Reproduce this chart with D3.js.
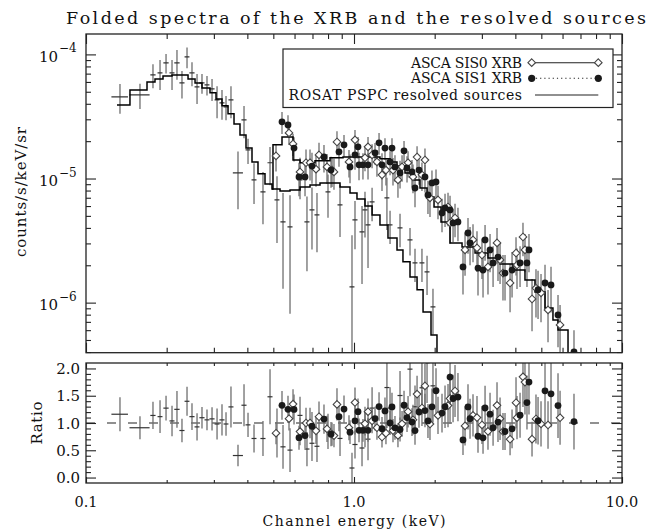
<!DOCTYPE html>
<html><head><meta charset="utf-8">
<script src="https://cdn.jsdelivr.net/npm/d3@7"></script>
<style>body{margin:0;background:#fff} svg{display:block} text{font-family:"DejaVu Serif",serif;fill:#111}</style>
</head><body>
<svg id="c" width="657" height="529"></svg>
<script>
// ---------- DATA ----------
const titleText = "Folded spectra of the XRB and the resolved sources";
const xTickLabels = ["0.1","1.0","10.0"];
const xTickValues = [0.1,1,10];
const yTopTickExp = [-4,-5,-6];
const yRatioTicks = [0.0,0.5,1.0,1.5,2.0];
const legendLabels = ["ASCA SIS0 XRB","ASCA SIS1 XRB","ROSAT PSPC resolved sources"];

// ROSAT PSPC data (energy keV, bin half width keV, value, fractional error)
const rosatE = [0.1339,0.1590,0.1778,0.1889,0.1989,0.2094,0.2185,0.2281,0.2382,0.2486,
  0.2596,0.2709,0.2828,0.2953,0.3083,0.3217,0.3330,0.3475,0.3691,0.3887,
  0.4023,0.4236,0.4575,0.4860,0.5160,0.5434,0.5771,0.6289,0.6676,0.6970,
  0.7276,0.7998,0.8868,0.9829,1.0086,1.0713,1.099,1.128,1.168,1.327,
  1.363,1.485,1.618,1.689,1.793,1.873,1.971];
const rosatEHalf = [0.0095,0.0137,0.004,0.004,0.0045,0.0045,0.005,0.005,0.005,0.0055,
  0.0055,0.006,0.006,0.0065,0.0065,0.007,0.007,0.0075,0.016,0.0085,
  0.0085,0.009,0.010,0.0105,0.011,0.012,0.0125,0.0135,0.0145,0.015,
  0.0155,0.017,0.019,0.021,0.022,0.023,0.024,0.024,0.025,0.028,
  0.029,0.032,0.035,0.036,0.038,0.040,0.042];
const rosatV = [4.55e-5,4.72e-5,6.83e-5,7.09e-5,8.54e-5,7.09e-5,8.54e-5,5.89e-5,9.55e-5,7.09e-5,
  5.47e-5,5.89e-5,5.68e-5,5.27e-5,4.30e-5,4.07e-5,3.78e-5,4.30e-5,1.11e-5,2.97e-5,
  1.70e-5,9.74e-6,7.80e-6,1.34e-5,6.72e-6,4.47e-6,4.07e-6,9.74e-6,4.47e-6,5.58e-6,
  5.09e-6,7.80e-6,6.13e-6,1.34e-6,4.64e-6,3.71e-6,5.58e-6,4.23e-6,6.48e-6,6.98e-6,
  4.23e-6,4.00e-6,3.20e-6,2.09e-6,2.09e-6,1.77e-6,9.23e-7];
const rosatFracErr = [0.27,0.23,0.22,0.27,0.18,0.27,0.27,0.25,0.19,0.22,
  0.27,0.18,0.18,0.20,0.29,0.27,0.22,0.29,0.49,0.29,
  0.23,0.36,0.45,0.34,0.55,0.71,0.80,0.30,0.60,0.52,
  0.50,0.38,0.45,1.60,0.42,0.62,0.40,0.55,0.30,0.45,
  0.30,0.30,0.25,0.30,0.30,0.35,0.40];

// ROSAT folded model (histogram: bin edges keV, values)
const rosatModelEdges = [0.1305,0.1459,0.1689,0.1809,0.1938,0.2094,0.2243,0.2403,0.2552,0.2709,
  0.2902,0.3056,0.3217,0.3388,0.3567,0.3755,0.3954,0.4163,0.4383,0.4655,
  0.4943,0.5296,0.5771,0.6289,0.6853,0.7468,0.8138,0.8868,0.9663,1.026,
  1.099,1.168,1.250,1.339,1.447,1.523,1.618,1.719,1.810,1.938,2.040];
const rosatModelVals = [3.92e-5,5.17e-5,6.00e-5,6.35e-5,6.71e-5,6.83e-5,6.83e-5,6.35e-5,5.89e-5,5.37e-5,
  4.90e-5,4.38e-5,3.85e-5,3.32e-5,2.75e-5,2.24e-5,1.76e-5,1.36e-5,1.09e-5,9.05e-6,
  8.24e-6,7.94e-6,8.09e-6,8.55e-6,8.88e-6,9.22e-6,9.22e-6,8.55e-6,7.66e-6,6.85e-6,
  6.01e-6,5.09e-6,4.23e-6,3.32e-6,2.66e-6,2.13e-6,1.61e-6,1.27e-6,8.41e-7,5.49e-7];

// ASCA folded model
const ascaModelEdges = [0.4943,0.4986,0.5387,0.5922,0.6289,0.7153,0.8138,0.9099,1.080,1.250,
  1.363,1.447,1.550,1.660,1.763,1.873,1.989,2.112,2.282,2.530,
  2.829,3.162,3.507,3.920,4.345,4.735,5.161,5.526,5.771,6.289,7.0];
const ascaModelVals = [8.24e-6,1.87e-5,2.16e-5,1.41e-5,1.34e-5,1.39e-5,1.47e-5,1.49e-5,1.49e-5,1.44e-5,
  1.36e-5,1.26e-5,1.11e-5,9.74e-6,8.39e-6,7.11e-6,5.90e-6,4.47e-6,3.03e-6,2.81e-6,
  2.51e-6,2.29e-6,2.05e-6,1.83e-6,1.52e-6,1.22e-6,9.06e-7,7.25e-7,6.03e-7,3.9e-7];

// ASCA SIS0 (open diamonds)
const sis0E = [0.5117,0.5721,0.5922,0.6289,0.6621,0.6853,0.7215,0.7403,0.7930,0.8279,
  0.8420,0.8640,0.9579,1.0086,1.099,1.128,1.168,1.218,1.272,1.316,
  1.398,1.459,1.511,1.591,1.660,1.719,1.793,1.840,1.921,2.058,
  2.243,2.282,2.382,2.596,2.780,2.877,3.003,3.162,3.417,3.507,
  3.597,3.822,4.023,4.057,4.271,4.345,4.616,4.776,4.987,5.296,5.873];
const sis0V = [1.52e-5,2.33e-5,1.90e-5,1.13e-5,1.34e-5,1.34e-5,1.19e-5,1.55e-5,1.24e-5,1.17e-5,
  1.13e-5,1.97e-5,1.36e-5,2.05e-5,1.47e-5,1.80e-5,1.55e-5,1.36e-5,1.07e-5,1.17e-5,
  1.17e-5,9.74e-6,1.24e-5,1.34e-5,1.03e-5,1.49e-5,1.07e-5,1.41e-5,6.98e-6,6.72e-6,
  5.90e-6,4.39e-6,4.81e-6,2.66e-6,3.20e-6,2.76e-6,2.42e-6,1.94e-6,3.03e-6,2.21e-6,
  1.73e-6,1.44e-6,2.51e-6,2.01e-6,3.38e-6,2.66e-6,1.07e-6,1.31e-6,1.20e-6,8.73e-7,6.61e-7];
const sis0FracErr = [0.25,0.20,0.20,0.30,0.28,0.28,0.28,0.25,0.27,0.27,
  0.28,0.22,0.25,0.20,0.22,0.20,0.22,0.24,0.26,0.25,
  0.25,0.28,0.24,0.24,0.26,0.22,0.26,0.24,0.30,0.30,
  0.30,0.32,0.30,0.38,0.34,0.36,0.36,0.40,0.32,0.36,
  0.40,0.42,0.34,0.36,0.30,0.34,0.45,0.42,0.42,0.45,0.45];

// ASCA SIS1 (filled circles)
const sis1E = [0.5387,0.5672,0.5973,0.6235,0.6565,0.6970,0.7727,0.8208,0.8790,0.9177,
  0.9663,1.0086,1.035,1.044,1.080,1.128,1.198,1.240,1.272,1.305,
  1.363,1.386,1.422,1.485,1.537,1.577,1.646,1.689,1.748,1.840,
  1.888,1.954,2.023,2.130,2.186,2.282,2.342,2.443,2.551,2.663,
  2.710,2.902,3.030,3.083,3.218,3.303,3.446,3.660,3.888,4.165,
  4.420,4.497,4.861,5.161,5.434,5.771,6.62];
const sis1V = [2.86e-5,2.70e-5,1.76e-5,1.03e-5,1.03e-5,1.26e-5,1.49e-5,1.17e-5,1.64e-5,1.87e-5,
  1.24e-5,1.55e-5,1.80e-5,1.29e-5,1.29e-5,1.29e-5,1.61e-5,1.94e-5,1.29e-5,1.76e-5,
  1.36e-5,1.76e-5,1.24e-5,1.11e-5,1.67e-5,1.22e-5,1.13e-5,8.39e-6,1.17e-5,1.03e-5,
  7.38e-6,9.22e-6,9.39e-6,5.28e-6,5.80e-6,5.58e-6,4.39e-6,4.47e-6,1.94e-6,3.64e-6,
  3.03e-6,1.90e-6,1.83e-6,3.20e-6,2.66e-6,2.09e-6,2.33e-6,1.73e-6,1.83e-6,2.09e-6,
  2.09e-6,2.66e-6,1.27e-6,1.44e-6,1.39e-6,7.96e-7,4.0e-7];
const sis1FracErr = [0.20,0.20,0.22,0.30,0.30,0.28,0.25,0.28,0.24,0.20,
  0.26,0.24,0.20,0.25,0.24,0.24,0.20,0.20,0.24,0.20,
  0.22,0.20,0.24,0.25,0.20,0.24,0.25,0.30,0.24,0.25,
  0.30,0.26,0.26,0.30,0.30,0.30,0.30,0.30,0.40,0.32,
  0.34,0.40,0.40,0.32,0.34,0.36,0.36,0.40,0.40,0.36,
  0.36,0.34,0.42,0.40,0.40,0.45,0.50];

// ---------- DRAWING ----------
const svg = d3.select("#c");
const PL = 86, PR = 622, TT = 34, TB = 352.7, RT = 363, RB = 483;
const x = d3.scaleLog().domain([0.1, 10]).range([PL, PR]);
const yT = d3.scaleLog().domain([3.95e-7, 1.46e-4]).range([TB, TT]);
const yR = d3.scaleLinear().domain([-0.1, 2.1]).range([RB, RT]);

const defs = svg.append("defs");
defs.append("clipPath").attr("id","clipT").append("rect").attr("x",PL).attr("y",TT).attr("width",PR-PL).attr("height",TB-TT);
defs.append("clipPath").attr("id","clipR").append("rect").attr("x",PL).attr("y",RT).attr("width",PR-PL).attr("height",RB-RT);

function modelAt(edges, vals, e) {
  for (let i = 0; i < vals.length; i++) if (e >= edges[i] && e < edges[i+1]) return vals[i];
  return vals[vals.length-1];
}
const rosatPts = rosatE.map((e,i)=>({e, dE: rosatEHalf[i], v: rosatV[i], s: rosatFracErr[i], m: modelAt(rosatModelEdges, rosatModelVals, e)}));
const sis0Pts = sis0E.map((e,i)=>({e, v: sis0V[i], s: sis0FracErr[i], m: modelAt(ascaModelEdges, ascaModelVals, e)}));
const sis1Pts = sis1E.map((e,i)=>({e, v: sis1V[i], s: sis1FracErr[i], m: modelAt(ascaModelEdges, ascaModelVals, e)}));

const ERR = "#6f6f6f", INK = "#1a1a1a";
function lowY(v, s) { const lo = v*(1-s); return lo > 0 ? yT(lo) : TB + 10; }

// ---- top panel ----
const gT = svg.append("g").attr("clip-path","url(#clipT)");
gT.selectAll(".rv").data(rosatPts).join("line")
  .attr("x1",d=>x(d.e)).attr("x2",d=>x(d.e)).attr("y1",d=>yT(d.v*(1+d.s))).attr("y2",d=>lowY(d.v,d.s))
  .attr("stroke",ERR).attr("stroke-width",1.3);
gT.selectAll(".rh").data(rosatPts).join("line")
  .attr("x1",d=>x(d.e-d.dE)).attr("x2",d=>x(d.e+d.dE)).attr("y1",d=>yT(d.v)).attr("y2",d=>yT(d.v))
  .attr("stroke","#333").attr("stroke-width",1.2);
[sis0Pts, sis1Pts].forEach(pts=>{
  gT.append("g").selectAll("line").data(pts).join("line")
    .attr("x1",d=>x(d.e)).attr("x2",d=>x(d.e)).attr("y1",d=>yT(d.v*(1+d.s))).attr("y2",d=>lowY(d.v,d.s))
    .attr("stroke",ERR).attr("stroke-width",1.3);
});
function stepPts(edges, vals, drop) {
  const p = [];
  vals.forEach((v,i)=>{ p.push([edges[i], v]); p.push([edges[i+1], v]); });
  if (drop) p.push([edges[edges.length-1], yT.domain()[0]/3]);
  return p;
}
const ln = d3.line().x(d=>x(d[0])).y(d=>yT(d[1]));
gT.append("path").attr("d", ln(stepPts(rosatModelEdges, rosatModelVals, true)))
  .attr("fill","none").attr("stroke","#000").attr("stroke-width",1.5);
gT.append("path").attr("d", ln(stepPts(ascaModelEdges, ascaModelVals, false)))
  .attr("fill","none").attr("stroke","#000").attr("stroke-width",1.5);

function diamond(g, cx, cy) {
  g.append("path").attr("d",`M${cx},${cy-3.8}L${cx+3.8},${cy}L${cx},${cy+3.8}L${cx-3.8},${cy}Z`)
    .attr("fill","#fff").attr("stroke","#444").attr("stroke-width",1.1);
}
sis0Pts.forEach(d=>diamond(gT, x(d.e), yT(d.v)));
gT.selectAll(".c1").data(sis1Pts).join("circle").attr("cx",d=>x(d.e)).attr("cy",d=>yT(d.v)).attr("r",3.4).attr("fill",INK);

// ---- ratio panel ----
const gR = svg.append("g").attr("clip-path","url(#clipR)");
gR.append("line").attr("x1",PL).attr("x2",PR).attr("y1",yR(1)).attr("y2",yR(1))
  .attr("stroke","#222").attr("stroke-width",1.1).attr("stroke-dasharray","9,12");
gR.selectAll(".rv").data(rosatPts).join("line")
  .attr("x1",d=>x(d.e)).attr("x2",d=>x(d.e)).attr("y1",d=>yR((d.v+d.s*d.v)/d.m)).attr("y2",d=>yR((d.v-d.s*d.v)/d.m))
  .attr("stroke",ERR).attr("stroke-width",1.3);
gR.selectAll(".rh").data(rosatPts).join("line")
  .attr("x1",d=>x(d.e-d.dE)).attr("x2",d=>x(d.e+d.dE)).attr("y1",d=>yR(d.v/d.m)).attr("y2",d=>yR(d.v/d.m))
  .attr("stroke","#333").attr("stroke-width",1.2);
[sis0Pts, sis1Pts].forEach(pts=>{
  gR.append("g").selectAll("line").data(pts).join("line")
    .attr("x1",d=>x(d.e)).attr("x2",d=>x(d.e)).attr("y1",d=>yR((d.v+d.s*d.v)/d.m)).attr("y2",d=>yR((d.v-d.s*d.v)/d.m))
    .attr("stroke",ERR).attr("stroke-width",1.3);
});
sis0Pts.forEach(d=>diamond(gR, x(d.e), yR(d.v/d.m)));
gR.selectAll(".c1").data(sis1Pts).join("circle").attr("cx",d=>x(d.e)).attr("cy",d=>yR(d.v/d.m)).attr("r",3.4).attr("fill",INK);

// ---- frames & ticks ----
[[TT,TB],[RT,RB]].forEach(([a,b])=>{
  svg.append("rect").attr("x",PL).attr("y",a).attr("width",PR-PL).attr("height",b-a)
    .attr("fill","none").attr("stroke","#222").attr("stroke-width",1.3);
});
function addAxis(gen, tr) {
  const g = svg.append("g").attr("transform", tr).call(gen);
  g.select(".domain").remove();
  g.selectAll("text").remove();
  g.selectAll("line").attr("stroke","#222").attr("stroke-width",1.1);
}
const xMinor = [];
[0.1,1].forEach(d=>{ for (let k=2;k<=9;k++) xMinor.push(k*d); });
addAxis(d3.axisBottom(x).tickValues(xTickValues).tickSize(-10).tickSizeOuter(0), `translate(0,${TB})`);
addAxis(d3.axisBottom(x).tickValues(xMinor).tickSize(-5).tickSizeOuter(0), `translate(0,${TB})`);
addAxis(d3.axisTop(x).tickValues(xTickValues).tickSize(-10).tickSizeOuter(0), `translate(0,${TT})`);
addAxis(d3.axisTop(x).tickValues(xMinor).tickSize(-5).tickSizeOuter(0), `translate(0,${TT})`);
addAxis(d3.axisBottom(x).tickValues(xTickValues).tickSize(-6).tickSizeOuter(0), `translate(0,${RB})`);
addAxis(d3.axisBottom(x).tickValues(xMinor).tickSize(-3).tickSizeOuter(0), `translate(0,${RB})`);
addAxis(d3.axisTop(x).tickValues(xTickValues).tickSize(-6).tickSizeOuter(0), `translate(0,${RT})`);
addAxis(d3.axisTop(x).tickValues(xMinor).tickSize(-3).tickSizeOuter(0), `translate(0,${RT})`);
const yMajor = yTopTickExp.map(e=>Math.pow(10,e));
const yMinor = [];
[-7,-6,-5,-4].forEach(e=>{ for (let k=2;k<=9;k++){ const v=k*Math.pow(10,e); if (v>=yT.domain()[0] && v<=yT.domain()[1]) yMinor.push(v);} });
addAxis(d3.axisLeft(yT).tickValues(yMajor).tickSize(-10).tickSizeOuter(0), `translate(${PL},0)`);
addAxis(d3.axisLeft(yT).tickValues(yMinor).tickSize(-5).tickSizeOuter(0), `translate(${PL},0)`);
addAxis(d3.axisRight(yT).tickValues(yMajor).tickSize(-10).tickSizeOuter(0), `translate(${PR},0)`);
addAxis(d3.axisRight(yT).tickValues(yMinor).tickSize(-5).tickSizeOuter(0), `translate(${PR},0)`);
const rMinor = d3.range(0, 21).map(i=>i/10).filter(v=>Math.round(v*10)%5!==0);
addAxis(d3.axisLeft(yR).tickValues(yRatioTicks).tickSize(-10).tickSizeOuter(0), `translate(${PL},0)`);
addAxis(d3.axisLeft(yR).tickValues(rMinor).tickSize(-5).tickSizeOuter(0), `translate(${PL},0)`);
addAxis(d3.axisRight(yR).tickValues(yRatioTicks).tickSize(-10).tickSizeOuter(0), `translate(${PR},0)`);
addAxis(d3.axisRight(yR).tickValues(rMinor).tickSize(-5).tickSizeOuter(0), `translate(${PR},0)`);

// ---- labels ----
function fitText(txt, xStart, yBase, len, size) {
  return svg.append("text").attr("x",xStart).attr("y",yBase).attr("font-size",size)
    .attr("textLength",len).attr("lengthAdjust","spacing").text(txt);
}
fitText(titleText, 66, 24, 580, 17.5);
yTopTickExp.forEach(e=>{
  const yy = yT(Math.pow(10,e));
  svg.append("text").attr("x",58).attr("y",yy+7.5).attr("font-size",15).attr("text-anchor","end").text("10");
  svg.append("text").attr("x",59).attr("y",yy-2).attr("font-size",12).text("\u2212"+Math.abs(e));
});
yRatioTicks.forEach(v=>{
  svg.append("text").attr("x",80).attr("y",yR(v)+5.5).attr("font-size",15).attr("text-anchor","end").text(v.toFixed(1));
});
xTickValues.forEach((v,i)=>{
  svg.append("text").attr("x",x(v)).attr("y",507).attr("font-size",14.5).attr("text-anchor","middle").text(xTickLabels[i]);
});
fitText("Channel energy (keV)", 354-91.5, 525.5, 183, 14);
svg.append("text").attr("transform","translate(26,192) rotate(-90)").attr("x",-65).attr("y",0)
  .attr("font-size",15).attr("textLength",130).attr("lengthAdjust","spacing").text("counts/s/keV/sr");
svg.append("text").attr("transform","translate(42,423) rotate(-90)").attr("x",-21.5).attr("y",0)
  .attr("font-size",15).attr("textLength",43).attr("lengthAdjust","spacing").text("Ratio");

// ---- legend ----
const lg = svg.append("g");
lg.append("rect").attr("x",283).attr("y",49).attr("width",330).attr("height",58.5)
  .attr("fill","#fff").attr("stroke","#222").attr("stroke-width",1.2);
const rowsY = [62.7, 78.3, 95];
const lens = [111, 111, 233.5];
legendLabels.forEach((t,i)=>{
  lg.append("text").attr("x",522-lens[i]).attr("y",rowsY[i]+5).attr("font-size",14)
    .attr("textLength",lens[i]).attr("lengthAdjust","spacing").text(t);
});
lg.append("line").attr("x1",531.7).attr("x2",598.3).attr("y1",rowsY[0]).attr("y2",rowsY[0]).attr("stroke","#222").attr("stroke-width",1.1);
diamond(lg, 531.7, rowsY[0]); diamond(lg, 598.3, rowsY[0]);
lg.append("line").attr("x1",531.7).attr("x2",598.3).attr("y1",rowsY[1]).attr("y2",rowsY[1]).attr("stroke","#222").attr("stroke-width",1.1).attr("stroke-dasharray","1.2,3");
[531.7,598.3].forEach(cx=>lg.append("circle").attr("cx",cx).attr("cy",rowsY[1]).attr("r",3.6).attr("fill",INK));
lg.append("line").attr("x1",535).attr("x2",598.3).attr("y1",rowsY[2]).attr("y2",rowsY[2]).attr("stroke","#222").attr("stroke-width",1.2);
</script>
</body></html>
